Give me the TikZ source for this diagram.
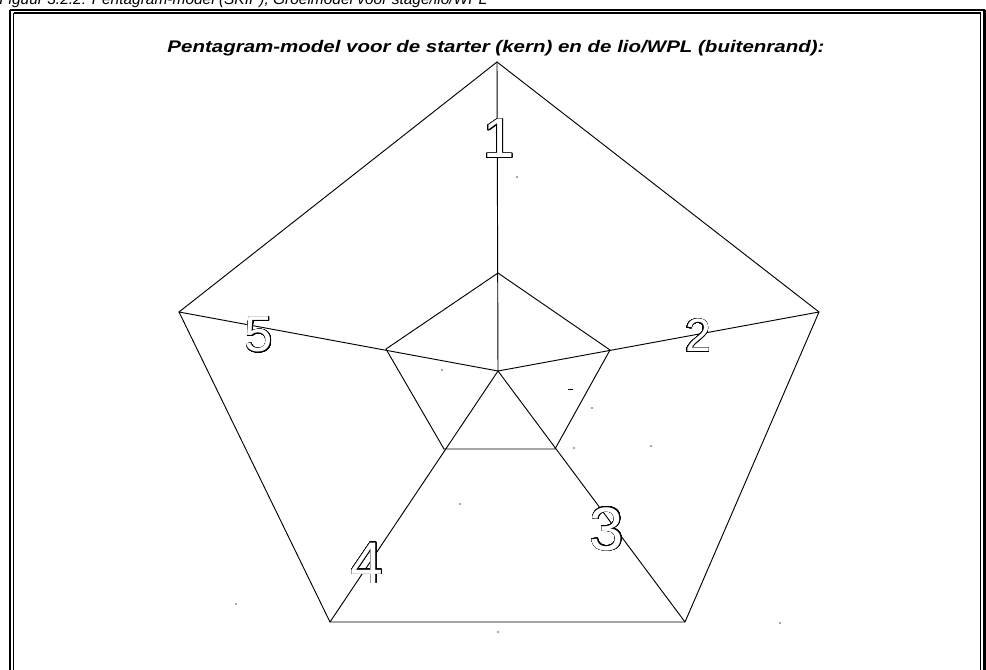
\documentclass[tikz,border=0pt]{standalone}
\usepackage{fontspec}
\setmainfont{Liberation Sans}
\usepackage{contour}
\contourlength{0.5pt}
\contournumber{32}
\tikzset{
  edge/.style={line width=0.7pt, black},
  frameout/.style={line width=1.6pt, black},
  framein/.style={line width=1.2pt, black},
  digit/.style={inner sep=0pt, anchor=base, text=white},
  speck/.style={fill=black!70, inner sep=0pt, minimum size=1.2pt, circle}
}
\begin{document}
\begin{tikzpicture}[x=0.75pt, y=-0.75pt]
\useasboundingbox (0,0) rectangle (986,670);
% caption (cut off at top, as in the reference)
\node[anchor=base west, inner sep=0pt, font=\fontsize{11.6}{12}\selectfont\itshape] (cap) at (-1,5) {Figuur 3.2.2: Pentagram-model (SKIP), Groeimodel voor stage/lio/WPL};
% frame
\draw[frameout] (10,10) -- (984.5,10);
\draw[frameout] (10,10) -- (10,680);
\draw[frameout] (984.5,10) -- (984.5,680);
\draw[framein] (13.5,13.3) -- (980.5,13.3);
\draw[framein] (13.5,13.3) -- (13.5,680);
\draw[framein] (980.5,13.3) -- (980.5,680);
% title
\node[anchor=base, inner sep=0pt, font=\fontsize{12.6}{14}\selectfont\bfseries\itshape] (title) at (496,53) {\scalebox{1.22}[1]{Pentagram-model voor de starter (kern) en de lio/WPL (buitenrand):}};
% outer pentagon
\coordinate (O1) at (497,62);
\coordinate (O2) at (819,312);
\coordinate (O3) at (685,622);
\coordinate (O4) at (330,622);
\coordinate (O5) at (179,312);
% inner pentagon
\coordinate (C) at (498,371);
\coordinate (I1) at (498,273);
\coordinate (I2) at (610,350);
\coordinate (I3) at (555,449);
\coordinate (I4) at (444,449);
\coordinate (I5) at (386,349);
\draw[edge] (O1) -- (O2) -- (O3) -- (O4) -- (O5) -- cycle;
\draw[edge] (I1) -- (I2) -- (I3) -- (I4) -- (I5) -- cycle;
\draw[edge] (C) -- (O1);
\draw[edge] (C) -- (O2);
\draw[edge] (C) -- (O3);
\draw[edge] (C) -- (O4);
\draw[edge] (C) -- (O5);
% digits
\node[digit, font=\fontsize{42}{42}\selectfont] (d1) at (499,158) {\contour{black}{1}};
\node[digit, font=\fontsize{35}{35}\selectfont] (d2) at (698,352) {\contour{black}{2}};
\node[digit, font=\fontsize{46}{46}\selectfont] (d3) at (607,550) {\contour{black}{3}};
\node[digit, font=\fontsize{44}{44}\selectfont] (d4) at (367,583) {\contour{black}{4}};
\node[digit, font=\fontsize{38}{38}\selectfont] (d5) at (259,352) {\contour{black}{5}};
% specks
\node[speck] (s1) at (517,177) {};
\node[speck] (s2) at (442,370) {};
\node[speck] (s3) at (592,408) {};
\node[speck] (s4) at (651,446) {};
\node[speck] (s5) at (574,448) {};
\node[speck] (s6) at (460,504) {};
\node[speck] (s7) at (236,604) {};
\node[speck] (s8) at (498,632) {};
\node[speck] (s9) at (780,623) {};
\draw[line width=0.6pt] (568,389) -- (573,389);
\end{tikzpicture}
\end{document}
